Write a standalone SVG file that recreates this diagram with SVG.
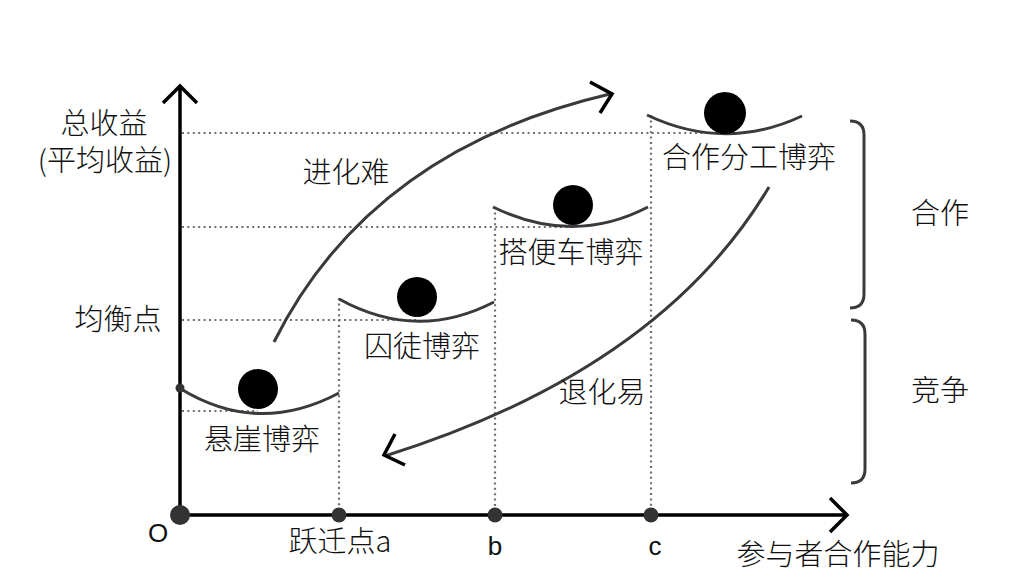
<svg xmlns="http://www.w3.org/2000/svg" width="1012" height="587" viewBox="0 0 1012 587">
<style>
text{font-family:"Noto Sans CJK SC","Noto Sans",sans-serif;font-size:29px;font-weight:300;fill:#111;text-anchor:middle}
.lat{font-family:"Liberation Sans","Noto Sans",sans-serif;font-size:26px;font-weight:400}
.axis{stroke:#000;stroke-width:3.5;fill:none;stroke-linecap:butt}
.dot{stroke:#6f6f6f;stroke-width:2.2;stroke-dasharray:2 3.4;fill:none}
.bowl{stroke:#3a3a3a;stroke-width:3;fill:none}
.ball{fill:#000}
.curve{stroke:#3a3a3a;stroke-width:3;fill:none}
.head{stroke:#000;stroke-width:3.5;fill:none;stroke-linecap:butt}
.brace{stroke:#3a3a3a;stroke-width:3;fill:none}
.pt{fill:#333}
</style>
<rect width="1012" height="587" fill="#fff"/>
<g id="guides">
<path class="dot" d="M182 133H725M182 227H573M182 320H417M182 411H258"/>
<path class="dot" d="M339 298V513M495 207V513M651 115V513"/>
</g>
<g id="axes">
<path class="axis" d="M180 515V87M163 103L180 86L197 103"/>
<path class="axis" d="M180 515H846M830 498L847 515L830 532"/>
<circle class="pt" cx="180" cy="515" r="10"/>
<circle class="pt" cx="339" cy="515" r="7.5"/>
<circle class="pt" cx="495" cy="515" r="7.5"/>
<circle class="pt" cx="651" cy="515" r="7.5"/>
<circle class="pt" cx="180" cy="388" r="4.5"/>
<text x="104" y="134">总收益</text>
<text x="105" y="171">(平均收益)</text>
<text x="118" y="330">均衡点</text>
<text class="lat" x="158" y="542">O</text>
<text x="340" y="552">跃迁点a</text>
<text class="lat" x="495" y="555">b</text>
<text class="lat" x="655" y="555">c</text>
<text x="838" y="565">参与者合作能力</text>
</g>
<g id="cliff">
<path class="bowl" d="M181 389Q258 436 339 393"/>
<circle class="ball" cx="258" cy="389" r="20"/>
<text x="262" y="450">悬崖博弈</text>
</g>
<g id="prisoner">
<path class="bowl" d="M339 299Q417 342 494 302"/>
<circle class="ball" cx="417" cy="297" r="20"/>
<text x="422" y="357">囚徒博弈</text>
</g>
<g id="freerider">
<path class="bowl" d="M493 207Q573 246 648 207"/>
<circle class="ball" cx="573" cy="205" r="20"/>
<text x="571" y="263">搭便车博弈</text>
</g>
<g id="coop">
<path class="bowl" d="M647 115Q725 152 802 116"/>
<circle class="ball" cx="725" cy="113" r="21"/>
<text x="749" y="168">合作分工博弈</text>
</g>
<g id="connectors">
<path class="curve" d="M274 342Q370 150 610 94"/>
<path class="head" d="M590 82L612 94L600 113"/>
<path class="curve" d="M769 187Q660 370 385 456"/>
<path class="head" d="M395 434L384 455L405 465"/>
<text x="346" y="183">进化难</text>
<text x="602" y="403">退化易</text>
</g>
<g id="braces">
<path class="brace" d="M850 121Q864 121 864 135V294Q864 308 850 308"/>
<path class="brace" d="M851 320Q865 320 865 334V469Q865 483 851 483"/>
<text x="940" y="224">合作</text>
<text x="940" y="401">竞争</text>
</g>
</svg>
